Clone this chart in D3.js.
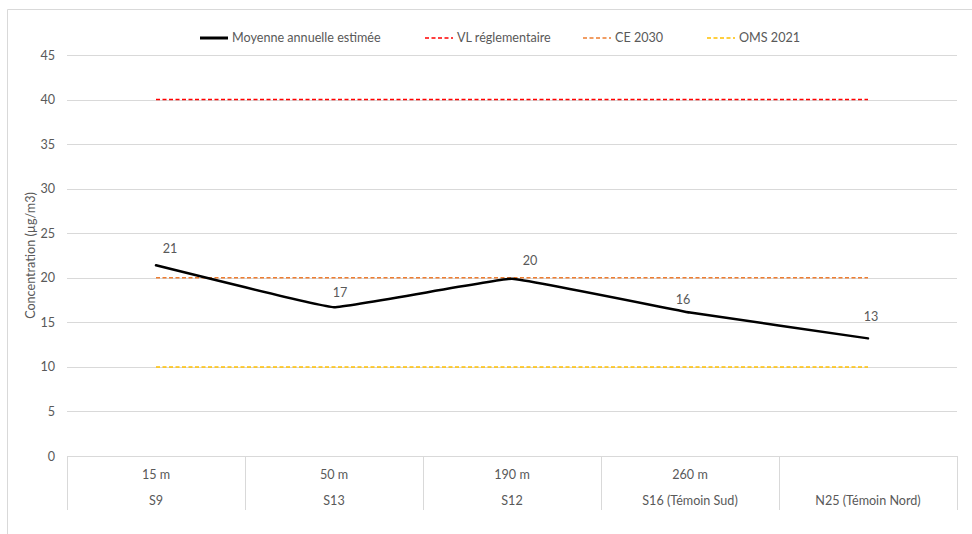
<!DOCTYPE html>
<html>
<head>
<meta charset="utf-8">
<script src="https://cdn.jsdelivr.net/npm/d3@7"></script>
<style>
  body { margin: 0; background: #fff; }
  text { font-family: Lato, "Open Sans", sans-serif; fill: #595959; }
</style>
</head>
<body>
<svg id="chart" width="972" height="534"></svg>
<script>
// data
const sites = ['S9', 'S13', 'S12', 'S16 (Témoin Sud)', 'N25 (Témoin Nord)'];
const distances = ['15 m', '50 m', '190 m', '260 m', ''];
const moyenne = [21.4, 16.7, 19.9, 16.1, 13.2];
const moyenneLabels = ['21', '17', '20', '16', '13'];
const vlReglementaire = 40;
const ce2030 = 20;
const oms2021 = 10;
const yTicks = [0, 5, 10, 15, 20, 25, 30, 35, 40, 45];

const legendItems = [
  { name: 'Moyenne annuelle estimée', color: '#000', dash: null, width: 3 },
  { name: 'VL réglementaire', color: '#ff0000', dash: '4,2.5', width: 1.5 },
  { name: 'CE 2030', color: '#ed7d31', dash: '4,2.5', width: 1.5 },
  { name: 'OMS 2021', color: '#ffc000', dash: '4,2.5', width: 1.5 }
];

const svg = d3.select('#chart');
const margins = { left: 67, right: 15, top: 55, bottom: 78 };
const w = 972, h = 534;
const fontSize = '12.6px';

// outer border
svg.append('path')
  .attr('d', `M7.5,${h} V9.5 H${w}`)
  .attr('fill', 'none')
  .attr('stroke', '#d9d9d9');

const x = d3.scaleBand()
  .domain(sites)
  .range([margins.left, w - margins.right]);

const y = d3.scaleLinear()
  .domain([0, 45])
  .range([h - margins.bottom, margins.top]);

// gridlines
svg.append('g')
  .selectAll('line')
  .data(yTicks)
  .enter()
  .append('line')
  .attr('x1', margins.left)
  .attr('x2', w - margins.right)
  .attr('y1', d => Math.round(y(d)) + 0.5)
  .attr('y2', d => Math.round(y(d)) + 0.5)
  .attr('stroke', '#d9d9d9')
  .attr('stroke-width', 1);

const yAxis = d3.axisLeft(y)
  .tickValues(yTicks)
  .tickSize(0)
  .tickPadding(12);

svg.append('g')
  .attr('transform', `translate(${margins.left}, 0)`)
  .call(yAxis)
  .call(g => g.select('.domain').remove())
  .selectAll('text')
  .style('font-size', fontSize)
  .style('font-family', 'Lato, "Open Sans", sans-serif')
  .attr('fill', '#595959');

// y axis label
svg.append('text')
  .attr('transform', `translate(35, ${(y(0) + y(45)) / 2}) rotate(-90)`)
  .style('text-anchor', 'middle')
  .style('font-size', fontSize)
  .text('Concentration (µg/m3)');

// category separators
const bounds = sites.map(s => x(s)).concat([x.range()[1]]);
svg.append('g')
  .selectAll('line')
  .data(bounds)
  .enter()
  .append('line')
  .attr('x1', d => Math.round(d) + 0.5)
  .attr('x2', d => Math.round(d) + 0.5)
  .attr('y1', y(0))
  .attr('y2', y(0) + 54)
  .attr('stroke', '#d9d9d9');

const cx = s => x(s) + x.bandwidth() / 2;

svg.append('g')
  .selectAll('text')
  .data(sites)
  .enter()
  .append('text')
  .attr('x', d => cx(d))
  .attr('y', y(0) + 23)
  .style('text-anchor', 'middle')
  .style('font-size', fontSize)
  .text((d, i) => distances[i]);

svg.append('g')
  .selectAll('text')
  .data(sites)
  .enter()
  .append('text')
  .attr('x', d => cx(d))
  .attr('y', y(0) + 49)
  .style('text-anchor', 'middle')
  .style('font-size', fontSize)
  .text(d => d);

// reference lines
const refs = [
  { value: oms2021, item: legendItems[3] },
  { value: ce2030, item: legendItems[2] },
  { value: vlReglementaire, item: legendItems[1] }
];
refs.forEach(r => {
  svg.append('line')
    .attr('x1', cx(sites[0]))
    .attr('x2', cx(sites[sites.length - 1]))
    .attr('y1', y(r.value))
    .attr('y2', y(r.value))
    .attr('stroke', r.item.color)
    .attr('stroke-width', r.item.width)
    .attr('stroke-dasharray', r.item.dash);
});

// main series
const line = d3.line()
  .x((d, i) => cx(sites[i]))
  .y(d => y(d))
  .curve(d3.curveCardinal.tension(0.8));

svg.append('path')
  .attr('d', line(moyenne))
  .attr('fill', 'none')
  .attr('stroke', '#000')
  .attr('stroke-width', 2.5)
  .attr('stroke-linecap', 'round');

// data labels (nudged like the original)
const labelDx = [14, 6, 18, -7, 3];
const labelDy = [-12, -10, -14, -9, -17];
svg.append('g')
  .selectAll('text')
  .data(moyenne)
  .enter()
  .append('text')
  .attr('x', (d, i) => cx(sites[i]) + labelDx[i])
  .attr('y', (d, i) => y(d) + labelDy[i])
  .style('text-anchor', 'middle')
  .style('font-size', fontSize)
  .text((d, i) => moyenneLabels[i]);

// legend
const legendX = [200, 425, 583, 707];
const legend = svg.append('g').attr('class', 'legend');
legendItems.forEach((d, i) => {
  legend.append('line')
    .attr('x1', legendX[i])
    .attr('x2', legendX[i] + 28)
    .attr('y1', 38)
    .attr('y2', 38)
    .attr('stroke', d.color)
    .attr('stroke-width', d.width)
    .attr('stroke-dasharray', d.dash);
  legend.append('text')
    .attr('x', legendX[i] + 32)
    .attr('y', 42)
    .style('font-size', fontSize)
    .text(d.name);
});
</script>
</body>
</html>
